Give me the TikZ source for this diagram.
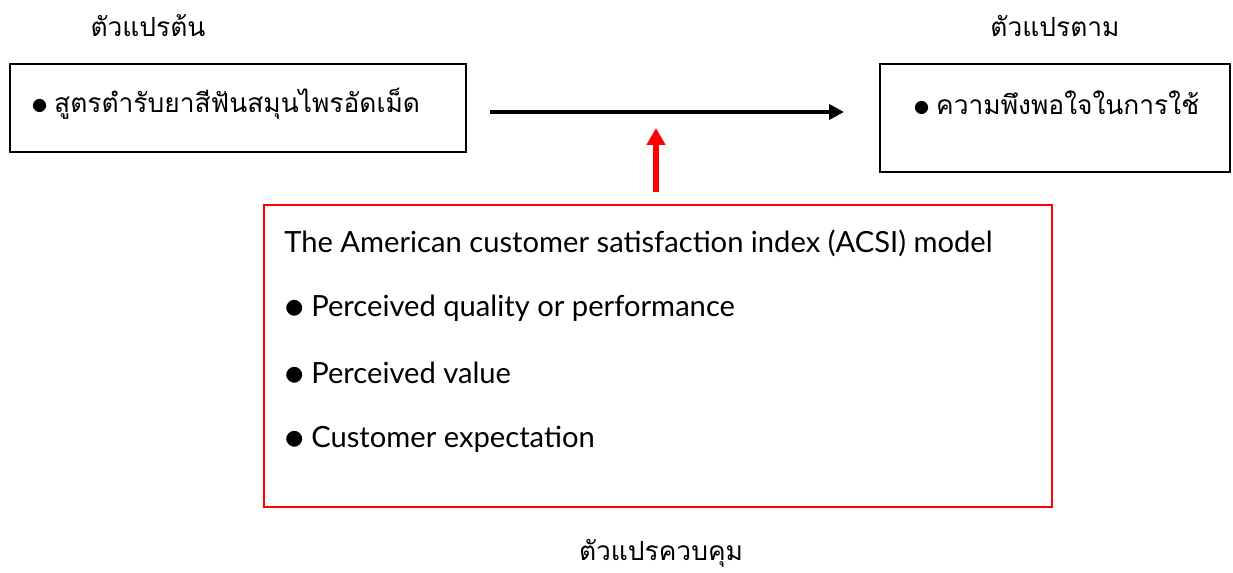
\documentclass[tikz,border=0pt]{standalone}
\usepackage{fontspec}
\setmainfont[Script=Thai]{Loma}
\newfontfamily\latinfont{Lato}
\usepackage{tikz}
\usetikzlibrary{arrows.meta,positioning}
\newcommand\blt{\raisebox{-0.15ex}{\scalebox{1.35}{$\bullet$}}\hspace{0.22em}}
\tikzset{
  % boxes and labels
  varbox/.style={draw=black,line width=1.1pt},
  ctrlbox/.style={draw=red,line width=1.1pt},
  title/.style={inner sep=0pt,font=\fontsize{15}{18}\selectfont},
  item/.style={inner sep=0pt,anchor=west,font=\fontsize{15}{18}\selectfont},
  enitem/.style={item,font=\latinfont\fontsize{16.6}{20}\selectfont},
  void/.style={inner sep=0pt,minimum size=0pt},
  % connectors
  mainarrow/.style={line width=2.4pt,-{Triangle[length=0.3cm,width=0.3cm]}},
  ctrlarrow/.style={red,line width=3.6pt,-{Triangle[length=0.34cm,width=0.36cm]}},
}
\begin{document}
\begin{tikzpicture}[x=0.02cm,y=-0.02cm]
  \useasboundingbox (0,0) rectangle (1233,573);
  % independent and dependent variable
  \draw[varbox] (10,64) rectangle (466,152);
  \node[void] (lbox) at (238,108) {};
  \draw[varbox] (880,64) rectangle (1230,172);
  \node[void] (rbox) at (1055,118) {};
  \node[title] (ltitle) at (148,26) {ตัวแปรต้น};
  \node[title] (rtitle) at (1055,26) {ตัวแปรตาม};
  \node[item] (litem) at (31,104) {\blt สูตรตำรับยาสีฟันสมุนไพรอัดเม็ด};
  \node[item] (ritem) at (913,104) {\blt ความพึงพอใจในการใช้};
  % control variable
  \draw[ctrlbox] (264,205) rectangle (1052,507);
  \node[void] (cbox) at (656,205) {};
  \node[enitem] (model) at (284,243) {The American customer satisfaction index (ACSI) model};
  \node[enitem] (quality) at (284,308) {\blt Perceived quality or performance};
  \node[enitem] (value) at (284,374) {\blt Perceived value};
  \node[enitem] (expect) at (284,439) {\blt Customer expectation};
  \node[title] (ctitle) at (661,553) {ตัวแปรควบคุม};
  % arrows
  \coordinate (a1) at (490,112);
  \coordinate (a2) at (844,112);
  \coordinate (c1) at (656,192);
  \coordinate (c2) at (656,128);
  \draw[mainarrow] (a1) -- (a2);
  \draw[ctrlarrow] (c1) -- (c2);
\end{tikzpicture}
\end{document}
